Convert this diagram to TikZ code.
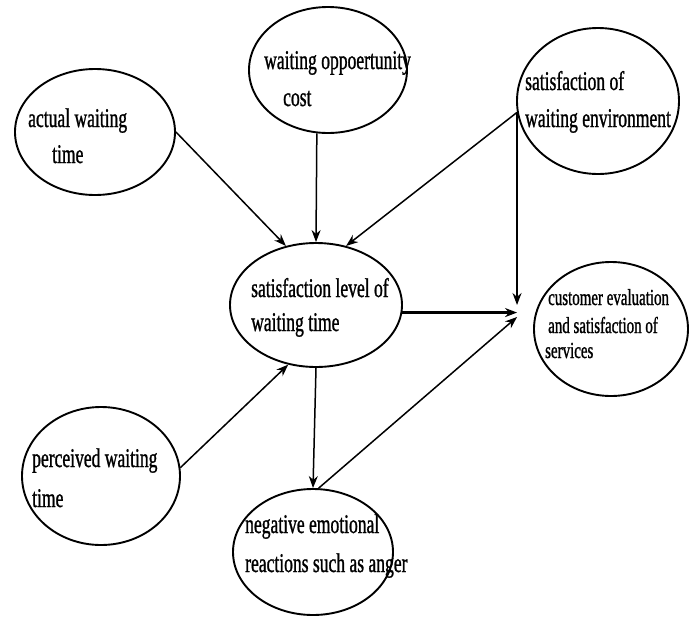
\documentclass[tikz,border=0pt]{standalone}
\usepackage{fontspec}
\setmainfont{Liberation Serif}[FakeStretch=0.65, FakeBold=1]
\usetikzlibrary{shapes.geometric, arrows.meta}
\tikzstyle{bubble}   = [ellipse, draw, line width=1.9pt, inner sep=0pt]
\tikzstyle{txt}      = [anchor=base west, align=left, inner sep=0pt, font=\fontsize{27}{36}\selectfont]
\tikzstyle{smalltxt} = [txt, font=\fontsize{23}{28}\selectfont]
\tikzstyle{arrow}    = [-{Stealth[length=12pt,width=9pt]}, line width=1.5pt]

\begin{document}
\begin{tikzpicture}[x=1pt, y=-1pt]
    \useasboundingbox (0,0) rectangle (689,619);

    % actual waiting time
    \node [bubble, minimum width=160, minimum height=126] (actual) at (95,132) {};
    \node [txt] (actual-txt) at (28,163) {actual waiting\\\hspace{24pt}time};

    % waiting opportunity cost
    \node [bubble, minimum width=158, minimum height=126] (cost) at (328,70) {};
    \node [txt] (cost-txt) at (264,106) {waiting oppoertunity\\[1pt]\hspace{19pt}cost};

    % satisfaction of waiting environment
    \node [bubble, minimum width=162, minimum height=146] (env) at (598,101) {};
    \node [txt] (env-txt) at (525,127) {satisfaction of\\[1pt]waiting environment};

    % satisfaction level of waiting time
    \node [bubble, minimum width=172, minimum height=124] (level) at (316,305) {};
    \node [txt] (level-txt) at (251,331) {satisfaction level of\\[-2pt]waiting time};

    % customer evaluation
    \node [bubble, minimum width=154, minimum height=134] (cust) at (611,329) {};
    \node [smalltxt] (cust-txt) at (548,358) {customer evaluation\\and satisfaction of\\[-3pt]\hspace{-3pt}services};

    % perceived waiting time
    \node [bubble, minimum width=158, minimum height=138] (perceived) at (101,476) {};
    \node [txt] (perceived-txt) at (32,507) {perceived waiting\\[4pt]time};

    % negative emotional reactions
    \node [bubble, minimum width=160, minimum height=126] (anger) at (313,552) {};
    \node [txt] (anger-txt) at (245,572) {negative emotional\\[3pt]reactions such as anger};

    % where the arrows meet
    \coordinate (hub) at ([xshift=-16pt,yshift=18pt]cust.west);

    % arrows
    \draw [arrow] (actual.east) -- (level.117);
    \draw [arrow] (cost.260) -- (level.north);
    \draw [arrow] (env.188) -- (level.63);
    \draw [arrow, shorten >=6pt] (env.188) -- (env.188 |- hub);
    \draw [arrow, line width=3pt] (level.-5) -- (level.-5 -| hub);
    \draw [arrow] (level.south) -- (anger.north);
    \draw [arrow] (perceived.6) -- (level.245);
    \draw [arrow] (anger.85) -- ([yshift=-6pt]hub);
\end{tikzpicture}
\end{document}
